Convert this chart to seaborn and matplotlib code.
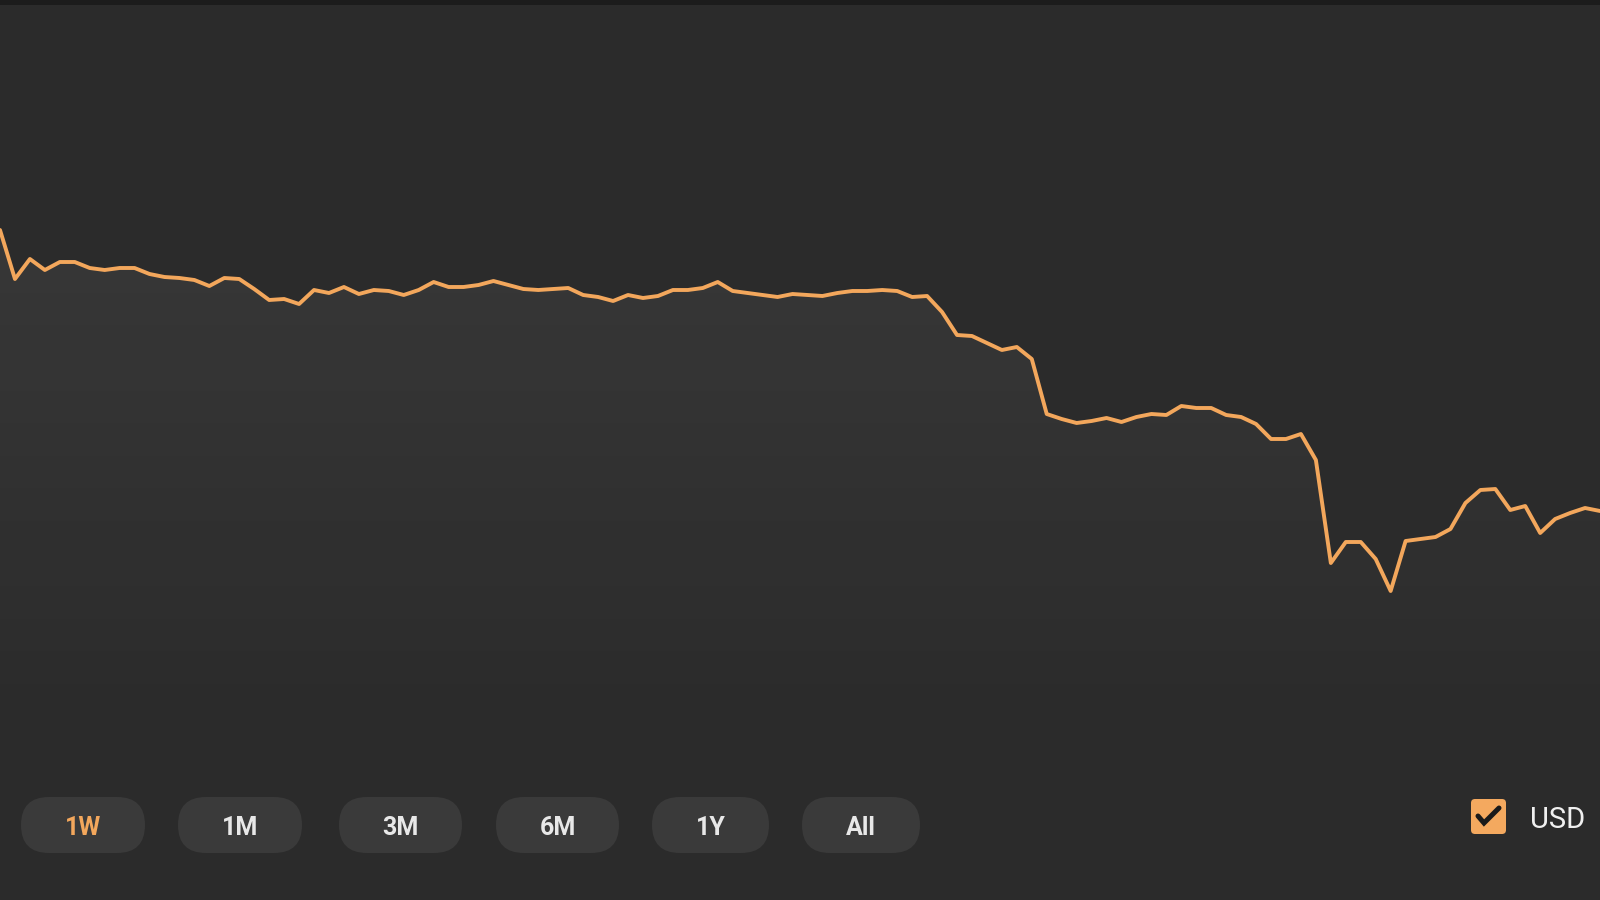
import numpy as np
import pandas as pd
import matplotlib.pyplot as plt
import seaborn as sns
from matplotlib.patches import FancyBboxPatch, Rectangle

# price series (arbitrary units, one point per step)
price = [670, 621, 641, 630, 638, 638, 632, 630, 632, 632,
         626, 623, 622, 620, 614, 622, 621, 611, 600, 601,
         596, 610, 607, 613, 606, 610, 609, 605, 610, 618,
         613, 613, 615, 619, 615, 611, 610, 611, 612, 605,
         603, 599, 605, 602, 604, 610, 610, 612, 618, 609,
         607, 605, 603, 606, 605, 604, 607, 609, 609, 610,
         609, 603, 604, 588, 565, 564, 557, 550, 553, 541,
         486, 481, 477, 479, 482, 478, 483, 486, 485, 494,
         492, 492, 485, 483, 476, 461, 461, 466, 440, 337,
         358, 358, 341, 309, 359, 361, 363, 371, 397, 410,
         411, 390, 394, 367, 381, 387, 392, 389]
ranges = ['1W', '1M', '3M', '6M', '1Y', 'All']
active_range = '1W'
currency = 'USD'

BG = '#2b2b2b'
LINE = '#f3a75c'
PILL = '#3a3a3a'
TXT = '#e8e8e8'

sns.set_theme(style='dark', rc={'figure.facecolor': BG, 'axes.facecolor': BG})
plt.rcParams['font.family'] = ['Roboto', 'DejaVu Sans']

fig = plt.figure(figsize=(16, 9), dpi=100, facecolor=BG)
ax = fig.add_axes([0, 0, 1, 1])

df = pd.DataFrame({'step': np.arange(len(price)), 'price': price})
sns.lineplot(data=df, x='step', y='price', color=LINE, linewidth=2.8, ax=ax, zorder=3)
ax.set_xlim(0, len(price) - 1)
ax.set_ylim(0, 900)

# soft gradient under the line
area = ax.fill_between(df['step'], df['price'], 0, color='none', lw=0)
yy = np.linspace(0, 900, 400)
alpha = np.clip((yy - 150) / (650 - 150), 0, 1) * 0.06
grad = np.zeros((len(yy), 1, 4))
grad[..., :3] = 1.0
grad[:, 0, 3] = alpha
im = ax.imshow(grad, extent=[0, len(price) - 1, 0, 900], origin='lower',
               aspect='auto', zorder=2, interpolation='bilinear')
im.set_clip_path(area.get_paths()[0], ax.transData)
ax.axis('off')

# overlay for the controls, in pixel units
ui = fig.add_axes([0, 0, 1, 1])
ui.set_xlim(0, 1600)
ui.set_ylim(900, 0)
ui.axis('off')

ui.add_patch(Rectangle((0, 0), 1600, 5, fc='#1c1c1c', ec='none'))

pill_left = [21, 178, 339, 496, 652, 802]
pill_w = [124, 124, 123, 123, 117, 118]
for lab, x0, w in zip(ranges, pill_left, pill_w):
    ui.add_patch(FancyBboxPatch((x0, 797), w, 56, boxstyle='round,pad=0,rounding_size=28',
                                fc=PILL, ec='none'))
    ui.text(x0 + w / 2, 828, lab, ha='center', va='center', fontsize=18, fontweight='bold',
            color=LINE if lab == active_range else TXT)

# checkbox + currency label
ui.add_patch(FancyBboxPatch((1471, 799), 35, 35, boxstyle='round,pad=0,rounding_size=4',
                            fc='#f4a95f', ec='none'))
ui.plot([1478, 1484, 1499], [816, 823, 808], color='#1a1a1a', lw=3.6, solid_capstyle='round',
        solid_joinstyle='miter')
ui.text(1530, 820, currency, ha='left', va='center', fontsize=21, color='#f0f0f0')

fig.savefig('out.png', dpi=100, facecolor=BG)
